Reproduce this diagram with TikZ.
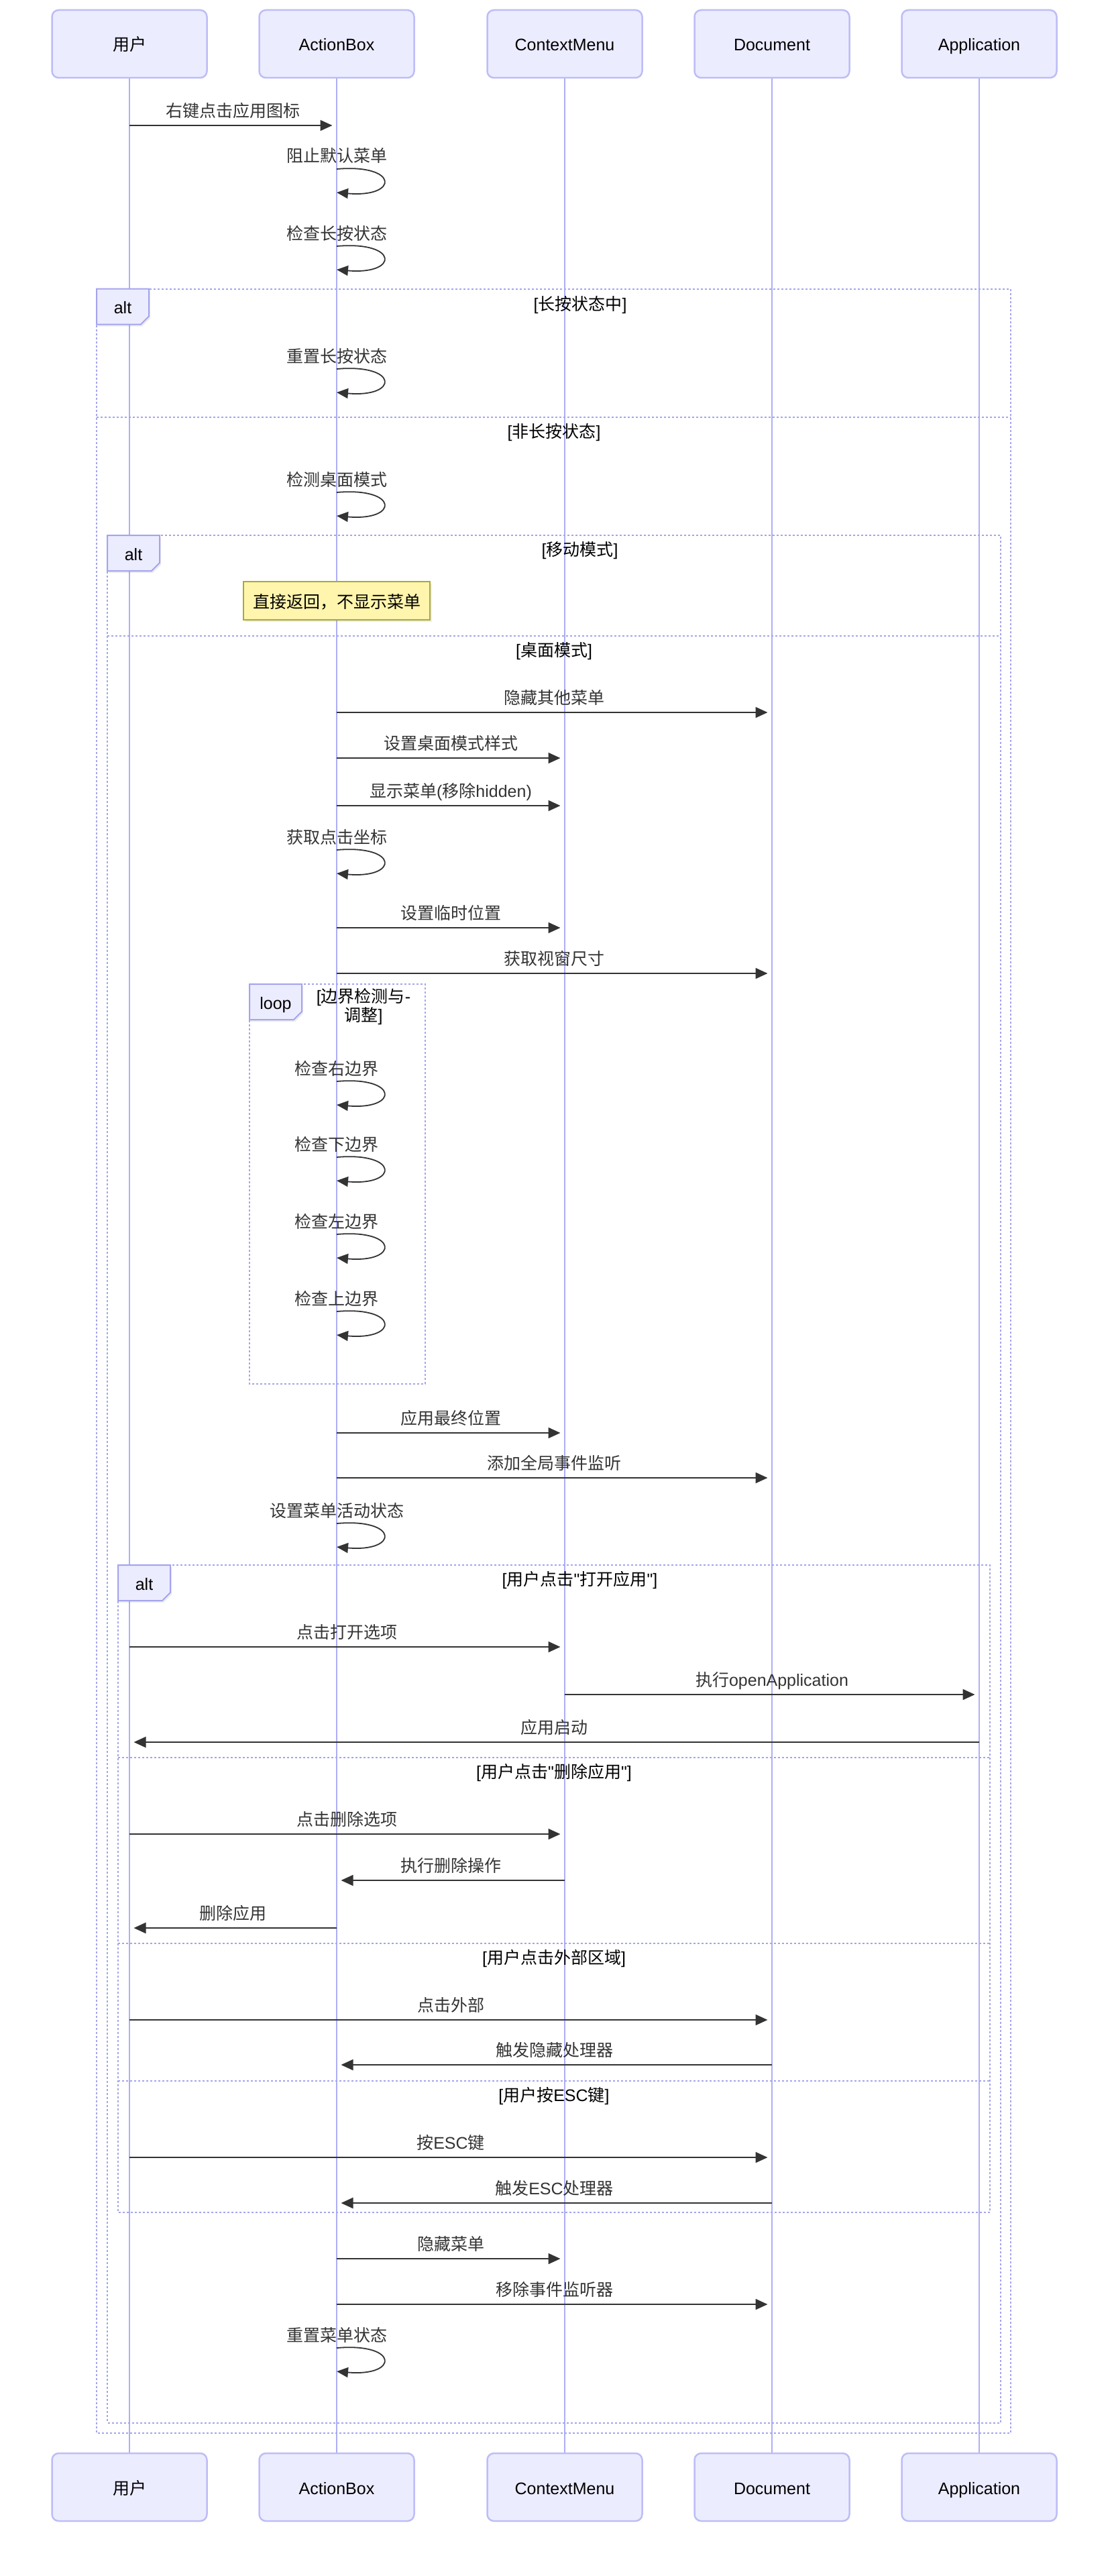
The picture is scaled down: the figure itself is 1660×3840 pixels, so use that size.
\documentclass[tikz,border=0pt]{standalone}
\usepackage{fontspec}
\setmainfont{Noto Sans CJK SC}
\newfontfamily\hanfont{Noto Sans CJK SC}
\newfontfamily\latinfont{Liberation Sans}
\usetikzlibrary{arrows.meta,shadows}

% ASCII letters, digits and signs in Liberation Sans, the rest in Noto Sans CJK
\XeTeXinterchartokenstate=1
\newXeTeXintercharclass\asciiclass
\newcount\asciicode
\asciicode=33
\loop
  \XeTeXcharclass\asciicode=\asciiclass
  \advance\asciicode by 1
\ifnum\asciicode<127 \repeat
\XeTeXinterchartoks 0 \asciiclass = {\latinfont}
\XeTeXinterchartoks 4095 \asciiclass = {\latinfont}
\XeTeXinterchartoks \asciiclass 0 = {\hanfont}

\definecolor{actorfill}{HTML}{ECECFF}
\definecolor{actorline}{HTML}{BDBDF7}
\definecolor{lifecol}{HTML}{AEAEF7}
\definecolor{fragcol}{HTML}{A4A4EE}
\definecolor{msgcol}{HTML}{333333}
\definecolor{notefill}{HTML}{FFF5AD}
\definecolor{noteline}{HTML}{AAAA33}

\tikzset{
  every node/.style={font=\fontsize{25}{28}\selectfont},
  actor/.style={draw=actorline, fill=actorfill, line width=2.5pt, rounded corners=10pt,
    minimum width=231pt, minimum height=101pt, inner sep=0pt, text height=21pt, text depth=0pt},
  lifeline/.style={draw=lifecol, line width=2.6pt},
  msgarrow/.style={draw=msgcol, line width=2pt, -{Triangle[length=18pt,width=16pt]}, shorten >=6.5pt},
  msgtext/.style={text=msgcol, inner sep=0pt, text height=21pt, text depth=0pt},
  selfloop/.style={draw=msgcol, line width=1.8pt, -{Triangle[length=17pt,width=15pt]}},
  frag/.style={draw=fragcol, line width=2pt, dash pattern=on 3pt off 3pt},
  tagbox/.style={draw=fragcol, fill=actorfill, line width=2pt,
    drop shadow={shadow xshift=2pt, shadow yshift=-3pt, opacity=0.15}},
  fragtext/.style={inner sep=0pt, text height=21pt, text depth=0pt},
  notebox/.style={draw=noteline, fill=notefill, line width=2pt, minimum width=278pt,
    minimum height=57pt, text height=21pt, text depth=0pt,
    drop shadow={shadow xshift=3pt, shadow yshift=-3pt, opacity=0.15}},
}

% message: name, from, to, y, text
\newcommand{\sendmsg}[5]{%
  \draw[msgarrow] (#2 |- 0,#4) -- (#3 |- 0,#4)
    node[msgtext, midway, yshift=23pt] (#1) {#5};}
% self message: name, lifeline, y, text
\newcommand{\selfmsg}[4]{%
  \node[msgtext] (#1) at (#2 |- 0,#3-20.5) {#4};
  \draw[selfloop] (#2 |- 0,#3) .. controls +(93,-8) and +(93,8) .. (#2 |- 0,#3+35);}
% fragment tag: name, x, y, text
\newcommand{\fragtag}[4]{%
  \draw[tagbox] (#2,#3) -- ++(78,0) -- ++(0,41) -- ++(-12,12) -- ++(-66,0) -- cycle;
  \node[fragtext] (#1) at (#2+39,#3+26.5) {#4};}

\begin{document}
\begin{tikzpicture}[x=1pt,y=-1pt]
  \useasboundingbox (0,0) rectangle (1660,3840);

  % participants
  \foreach \p/\x/\t in {u/193/用户, ab/502/ActionBox, cm/842/ContextMenu,
                        doc/1151/Document, app/1460/Application} {
    \node[actor] (\p) at (\x,65.5) {\t};
    \node[actor] (\p-b) at (\x,3707.5) {\t};
  }
  \foreach \p in {u,ab,cm,doc,app}
    \draw[lifeline] (\p.south) -- (\p-b.north);

  % alt: long press
  \draw[frag] (144,430.5) rectangle (1507,3626.5);
  \draw[frag] (144,622) -- (1507,622);
  \fragtag{alt1}{144}{430.5}{alt}
  \node[fragtext] (c1) at (865,452) {[长按状态中]};
  \node[fragtext] (c2) at (826,642) {[非长按状态]};

  % alt: mobile / desktop
  \draw[frag] (160,798) rectangle (1492,3611.5);
  \draw[frag] (160,948) -- (1492,948);
  \fragtag{alt2}{160}{798}{alt}
  \node[fragtext] (c3) at (864.5,818) {[移动模式]};
  \node[fragtext] (c4) at (826,968) {[桌面模式]};
  \node[notebox] (skip) at (502,895.5) {直接返回，不显示菜单};

  % loop: bounds
  \draw[frag] (372,1467) rectangle (634,2063);
  \fragtag{loop1}{372}{1467}{loop}
  \node[inner sep=0pt, align=center, font=\fontsize{25}{23}\selectfont] (c5) at (542,1500.5) {[边界检测与-\\调整]};

  % alt: user actions
  \draw[frag] (176,2333) rectangle (1476,3298);
  \draw[frag] (176,2620) -- (1476,2620);
  \draw[frag] (176,2897) -- (1476,2897);
  \draw[frag] (176,3102) -- (1476,3102);
  \fragtag{alt3}{176}{2333}{alt}
  \node[fragtext] (c6) at (864.5,2353) {[用户点击"打开应用"]};
  \node[fragtext] (c7) at (826,2640) {[用户点击"删除应用"]};
  \node[fragtext] (c8) at (826,2917) {[用户点击外部区域]};
  \node[fragtext] (c9) at (826,3122) {[用户按ESC键]};

  % messages
  \sendmsg{m1}{u}{ab}{187}{右键点击应用图标}
  \selfmsg{m2}{ab}{252}{阻止默认菜单}
  \selfmsg{m3}{ab}{367}{检查长按状态}
  \selfmsg{m4}{ab}{550}{重置长按状态}
  \selfmsg{m5}{ab}{734}{检测桌面模式}
  \sendmsg{m6}{ab}{doc}{1062}{隐藏其他菜单}
  \sendmsg{m7}{ab}{cm}{1130}{设置桌面模式样式}
  \sendmsg{m8}{ab}{cm}{1201}{显示菜单(移除hidden)}
  \selfmsg{m9}{ab}{1267}{获取点击坐标}
  \sendmsg{m10}{ab}{cm}{1383}{设置临时位置}
  \sendmsg{m11}{ab}{doc}{1451}{获取视窗尺寸}
  \selfmsg{m12}{ab}{1612}{检查右边界}
  \selfmsg{m13}{ab}{1725}{检查下边界}
  \selfmsg{m14}{ab}{1840}{检查左边界}
  \selfmsg{m15}{ab}{1955}{检查上边界}
  \sendmsg{m16}{ab}{cm}{2136}{应用最终位置}
  \sendmsg{m17}{ab}{doc}{2203}{添加全局事件监听}
  \selfmsg{m18}{ab}{2271}{设置菜单活动状态}
  \sendmsg{m19}{u}{cm}{2455}{点击打开选项}
  \sendmsg{m20}{cm}{app}{2526}{执行openApplication}
  \sendmsg{m21}{app}{u}{2597}{应用启动}
  \sendmsg{m22}{u}{cm}{2734}{点击删除选项}
  \sendmsg{m23}{cm}{ab}{2803}{执行删除操作}
  \sendmsg{m24}{ab}{u}{2874}{删除应用}
  \sendmsg{m25}{u}{doc}{3011}{点击外部}
  \sendmsg{m26}{doc}{ab}{3078}{触发隐藏处理器}
  \sendmsg{m27}{u}{doc}{3216}{按ESC键}
  \sendmsg{m28}{doc}{ab}{3284}{触发ESC处理器}
  \sendmsg{m29}{ab}{cm}{3367}{隐藏菜单}
  \sendmsg{m30}{ab}{doc}{3435}{移除事件监听器}
  \selfmsg{m31}{ab}{3500}{重置菜单状态}

\end{tikzpicture}
\end{document}
